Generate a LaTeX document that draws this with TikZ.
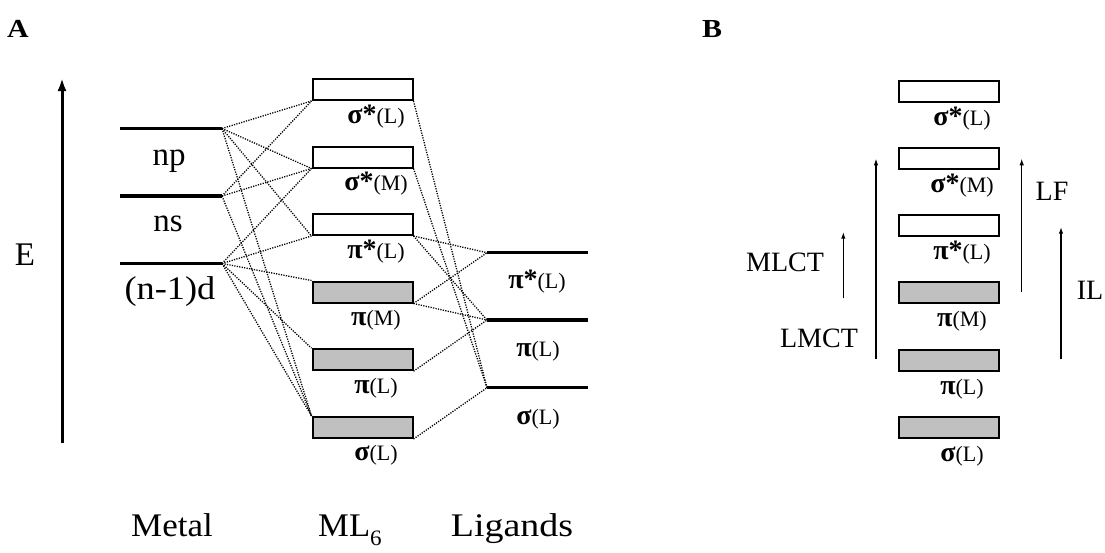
\documentclass[tikz,border=0pt]{standalone}
\usepackage{fontspec}
\setmainfont{Liberation Serif}
\usepackage{graphicx}
\usetikzlibrary{arrows.meta}
\definecolor{boxgray}{HTML}{C0C0C0}
\newcommand{\sx}[2]{\scalebox{#1}[1]{#2}}
\newcommand{\orb}[2]{{\fontsize{28}{28}\selectfont\bfseries #1}{\fontsize{22}{22}\selectfont(#2)}}
\begin{document}
\begin{tikzpicture}[x=1pt,y=-1pt,
  level/.style={line width=3.5pt},
  openbox/.style={draw, line width=2pt, minimum width=100pt, minimum height=21pt, inner sep=0pt, fill=white},
  graybox/.style={openbox, fill=boxgray},
  mix/.style={line width=1.3pt, dash pattern=on 1.2pt off 1.3pt},
  txt/.style={font=\fontsize{33}{33}\selectfont, anchor=base, inner sep=0pt},
  btxt/.style={font=\fontsize{28}{28}\selectfont, anchor=base, inner sep=0pt},
  olab/.style={anchor=base, inner sep=0pt},
  panel/.style={font=\fontsize{26}{26}\selectfont\bfseries, anchor=base, inner sep=0pt},
  trans/.style={line width=1.5pt, -{Latex[length=7pt,width=4.5pt]}},
  bigarrow/.style={line width=3pt, -{Latex[length=13pt,width=9pt]}}]
\useasboundingbox (0,0) rectangle (1105,552);
\fill[white] (0,0) rectangle (1105,552);

% panel letters
\node[panel] (labA) at (18,37) {\sx{1.15}{A}};
\node[panel] (labB) at (712,37) {\sx{1.15}{B}};

% energy arrow
\coordinate (Ebot) at (62,443);
\coordinate (Etop) at (62,78);
\draw[bigarrow] (Ebot) -- (Etop);
\node[txt] (Elab) at (25,265) {E};

% metal levels
\coordinate (npL) at (120,128.5); \coordinate (npR) at (222,128.5);
\coordinate (nsL) at (120,196);   \coordinate (nsR) at (222,196);
\coordinate (ndL) at (120,263.5); \coordinate (ndR) at (222,263.5);
\draw[level] (npL) -- (npR);
\draw[level] (nsL) -- (nsR);
\draw[level] (ndL) -- (ndR);
\node[txt] (tnp) at (169,165) {np};
\node[txt] (tns) at (168,231) {ns};
\node[txt] (tnd) at (170,299) {\sx{1.1}{(n-1)d}};

% ligand levels
\coordinate (lpsL) at (487,252.7); \coordinate (lpsR) at (588,252.7);
\coordinate (lpL) at (487,320);    \coordinate (lpR) at (588,320);
\coordinate (lsL) at (487,387.7);  \coordinate (lsR) at (588,387.7);
\draw[level] (lpsL) -- (lpsR);
\draw[level] (lpL) -- (lpR);
\draw[level] (lsL) -- (lsR);
\node[olab] (tlps) at (537,288) {\orb{π*}{L}};
\node[olab] (tlp) at (538,356) {\orb{π}{L}};
\node[olab] (tls) at (538,424) {\orb{σ}{L}};

% ML6 boxes
\node[openbox] (As1) at (362.5,89.5) {};
\node[openbox] (As2) at (362.5,157) {};
\node[openbox] (Ap3) at (362.5,224.5) {};
\node[graybox] (Ap4) at (362.5,292) {};
\node[graybox] (Ap5) at (362.5,359.7) {};
\node[graybox] (As6) at (362.5,427.5) {};
\node[olab] (Al1) at (376,123) {\orb{σ*}{L}};
\node[olab] (Al2) at (376,190) {\orb{σ*}{M}};
\node[olab] (Al3) at (376,258) {\orb{π*}{L}};
\node[olab] (Al4) at (376,325) {\orb{π}{M}};
\node[olab] (Al5) at (376,393) {\orb{π}{L}};
\node[olab] (Al6) at (376,460) {\orb{σ}{L}};

% mixing lines, metal side
\draw[mix] (npR) -- (As1.south west);
\draw[mix] (npR) -- (As2.south west);
\draw[mix] (npR) -- (Ap3.south west);
\draw[mix] (npR) -- (As6.north west);
\draw[mix] (nsR) -- (As1.south west);
\draw[mix] (nsR) -- (As2.south west);
\draw[mix] (nsR) -- (As6.north west);
\draw[mix] (ndR) -- (As2.south west);
\draw[mix] (ndR) -- (Ap3.south west);
\draw[mix] (ndR) -- (Ap4.north west);
\draw[mix] (ndR) -- (Ap5.north west);
\draw[mix] (ndR) -- (As6.north west);
% mixing lines, ligand side
\draw[mix] (As1.south east) -- (lsL);
\draw[mix] (As2.south east) -- (lsL);
\draw[mix] (Ap3.south east) -- (lpsL);
\draw[mix] (Ap3.south east) -- (lpL);
\draw[mix] (Ap4.south east) -- (lpsL);
\draw[mix] (Ap4.south east) -- (lpL);
\draw[mix] (Ap5.south east) -- (lpL);
\draw[mix] (As6.south east) -- (lsL);

% bottom captions
\node[txt] (tMetal) at (172,536) {\sx{1.06}{Metal}};
\node[txt] (tML) at (350,536) {\sx{1.05}{ML\raisebox{-0.28em}{\fontsize{22}{22}\selectfont 6}}};
\node[txt] (tLig) at (512,536) {\sx{1.15}{Ligands}};

% panel B boxes
\node[openbox] (Bs1) at (948.8,91.7) {};
\node[openbox] (Bs2) at (948.8,158.7) {};
\node[openbox] (Bp3) at (948.8,225.8) {};
\node[graybox] (Bp4) at (948.8,292.8) {};
\node[graybox] (Bp5) at (948.8,360.3) {};
\node[graybox] (Bs6) at (948.8,427.2) {};
\node[olab] (Bl1) at (962,125) {\orb{σ*}{L}};
\node[olab] (Bl2) at (962,192) {\orb{σ*}{M}};
\node[olab] (Bl3) at (962,259) {\orb{π*}{L}};
\node[olab] (Bl4) at (962,326) {\orb{π}{M}};
\node[olab] (Bl5) at (962,394) {\orb{π}{L}};
\node[olab] (Bl6) at (962,461) {\orb{σ}{L}};

% transitions
\coordinate (mlctA) at (843.3,298.3); \coordinate (mlctB) at (843.3,231.7);
\coordinate (lmctA) at (876,359.3);   \coordinate (lmctB) at (876,158.3);
\coordinate (lfA) at (1021.7,292.3);  \coordinate (lfB) at (1021.7,158.3);
\coordinate (ilA) at (1061,359.3);    \coordinate (ilB) at (1061,226.7);
\draw[trans] (mlctA) -- (mlctB);
\draw[trans] (lmctA) -- (lmctB);
\draw[trans] (lfA) -- (lfB);
\draw[trans] (ilA) -- (ilB);
\node[btxt] (tMLCT) at (785,271) {MLCT};
\node[btxt] (tLMCT) at (819,347) {LMCT};
\node[btxt] (tLF) at (1052,200.5) {LF};
\node[btxt] (tIL) at (1090,299) {IL};
\end{tikzpicture}
\end{document}
